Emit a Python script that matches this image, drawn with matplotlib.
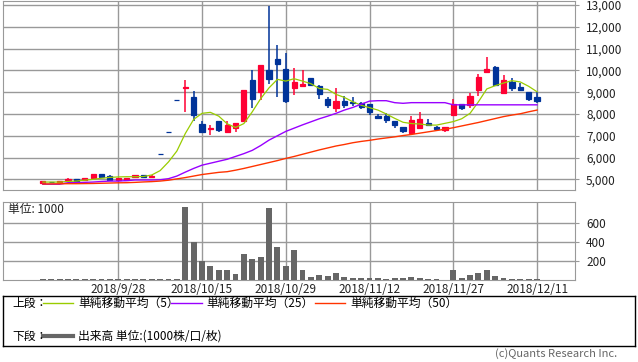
import numpy as np
import matplotlib
matplotlib.use("Agg")
import matplotlib.pyplot as plt
from matplotlib.ticker import FuncFormatter

plt.rcParams['font.family'] = ['Noto Sans CJK JP', 'DejaVu Sans']

dates = ["2018/9/13", "2018/9/14", "2018/9/18", "2018/9/19", "2018/9/20",
         "2018/9/21", "2018/9/25", "2018/9/26", "2018/9/27", "2018/9/28",
         "2018/10/1", "2018/10/2", "2018/10/3", "2018/10/4", "2018/10/5",
         "2018/10/9", "2018/10/10", "2018/10/11", "2018/10/12", "2018/10/15",
         "2018/10/16", "2018/10/17", "2018/10/18", "2018/10/19", "2018/10/22",
         "2018/10/23", "2018/10/24", "2018/10/25", "2018/10/26", "2018/10/29",
         "2018/10/30", "2018/10/31", "2018/11/1", "2018/11/2", "2018/11/5",
         "2018/11/6", "2018/11/7", "2018/11/8", "2018/11/9", "2018/11/12",
         "2018/11/13", "2018/11/14", "2018/11/15", "2018/11/16", "2018/11/19",
         "2018/11/20", "2018/11/21", "2018/11/22", "2018/11/26", "2018/11/27",
         "2018/11/28", "2018/11/29", "2018/11/30", "2018/12/3", "2018/12/4",
         "2018/12/5", "2018/12/6", "2018/12/7", "2018/12/10", "2018/12/11"]

opens = [4840, 4900, 4860, 4970, 5010, 4970, 5045, 5245, 5150, 4970,
         4970, 5105, 5200, 5105, 6150, 7160, 8640, 9180, 8775, 7540,
         7300, 7675, 7185, 7370, 7690, 9560, 9000, 10017, 10520, 10063,
         9205, 9280, 9650, 9280, 8700, 8290, 8595, 8560, 8490, 8440,
         7920, 7905, 7675, 7385, 7140, 7370, 7600, 7385, 7265, 7950,
         8455, 8410, 9100, 9940, 10170, 8975, 9480, 9250, 8990, 8790]
highs = [4930, 4900, 4915, 5045, 5010, 5060, 5245, 5245, 5210, 5075,
         5075, 5200, 5200, 5195, 6150, 7160, 8640, 9560, 9070, 7675,
         7490, 7675, 7660, 7570, 9100, 10017, 10245, 12970, 11165, 10783,
         10095, 10017, 9650, 9330, 8790, 9175, 8840, 8765, 8560, 8450,
         7985, 8030, 7675, 7400, 7905, 8075, 7755, 7445, 7385, 8670,
         8455, 8975, 9835, 10627, 10200, 9790, 9635, 9405, 9000, 9020]
lows = [4830, 4860, 4860, 4960, 4845, 4970, 5045, 5120, 4970, 4970,
        4970, 5105, 5105, 5095, 6150, 7160, 8640, 8100, 7690, 7170,
        7030, 7180, 7140, 7160, 7645, 8260, 8640, 9380, 8790, 8490,
        8870, 9220, 9280, 8670, 8260, 8100, 8260, 8365, 8240, 7950,
        7755, 7600, 7370, 7140, 7140, 7370, 7480, 7215, 7185, 7950,
        8180, 8260, 8825, 9865, 9280, 8975, 9070, 9050, 8610, 8490]
closes = [4915, 4860, 4915, 5010, 4920, 5060, 5245, 5120, 4970, 5075,
          5075, 5200, 5105, 5165, 6150, 7160, 8640, 9230, 7965, 7185,
          7370, 7260, 7490, 7570, 9100, 8685, 10245, 9604, 10305, 8610,
          9480, 9375, 9340, 8930, 8410, 8595, 8410, 8515, 8335, 8100,
          7830, 7720, 7490, 7215, 7720, 7765, 7500, 7310, 7385, 8455,
          8285, 8840, 9710, 10063, 9330, 9560, 9205, 9100, 8685, 8610]

volumes = [8, 8, 8, 8, 8, 8, 8, 8, 8, 8,
           8, 8, 8, 8, 6, 6, 14, 772, 397, 204,
           147, 105, 105, 63, 274, 221, 242, 761, 351, 147,
           316, 105, 32, 53, 42, 74, 32, 21, 21, 21,
           21, 14, 21, 21, 32, 21, 14, 14, 4, 105,
           21, 53, 74, 105, 42, 21, 14, 14, 14, 10]

sma5 = [4875, 4875, 4875, 4900, 4920, 4960, 5000, 5050, 5090, 5110,
        5120, 5120, 5130, 5200, 5400, 5800, 6300, 7100, 7750, 8030,
        8075, 7900, 7550, 7380, 7560, 8100, 8700, 9200, 9590, 9510,
        9620, 9510, 9390, 9170, 9130, 8900, 8760, 8560, 8400, 8290,
        8180, 8000, 7800, 7620, 7560, 7540, 7490, 7490, 7570, 7650,
        7780, 8030, 8560, 9150, 9300, 9420, 9530, 9470, 9270, 9020]
sma25 = [4775, 4775, 4775, 4845, 4845, 4860, 4875, 4900, 4920, 4920,
         4940, 4970, 4970, 4970, 4980, 5030, 5150, 5330, 5500, 5650,
         5740, 5830, 5920, 6050, 6180, 6330, 6550, 6800, 7000, 7200,
         7350, 7500, 7640, 7780, 7900, 8030, 8180, 8300, 8450, 8590,
         8610, 8610, 8520, 8490, 8520, 8520, 8520, 8520, 8520, 8420,
         8420, 8420, 8420, 8420, 8420, 8420, 8420, 8420, 8420, 8420]
sma50 = [4785, 4790, 4795, 4800, 4800, 4805, 4810, 4820, 4830, 4840,
         4845, 4860, 4880, 4895, 4920, 4960, 5020, 5080, 5150, 5220,
         5270, 5320, 5350, 5420, 5500, 5590, 5680, 5770, 5860, 5960,
         6050, 6150, 6250, 6350, 6440, 6530, 6600, 6680, 6740, 6790,
         6850, 6900, 6950, 7010, 7060, 7120, 7180, 7240, 7300, 7370,
         7450, 7530, 7610, 7700, 7790, 7880, 7950, 8010, 8100, 8180]

tick_idx = [9, 19, 29, 39, 49, 59]

red = '#ff0033'
blue = '#003399'
grid_c = '#999999'

fig = plt.figure(figsize=(6.38, 3.62), dpi=100)

ax = fig.add_axes([3/638, 1-190/362, 572/638, 189.5/362])
axv = fig.add_axes([3/638, 1-280/362, 572/638, 78.3/362])
axl = fig.add_axes([3/638, 1-346/362, 632/638, 50/362])

x = np.arange(len(closes))
o = np.array(opens)
c = np.array(closes)
cols = [red if cc > oo else blue for oo, cc in zip(opens, closes)]

# price panel
ax.vlines(x, lows, highs, colors=cols, linewidth=1.1, zorder=3)
ax.bar(x, c - o, bottom=o, width=0.62, color=cols, edgecolor=cols,
       linewidth=0.9, zorder=3)
ax.plot(x, sma5, color='#99cc00', lw=0.9, zorder=4)
ax.plot(x, sma25, color='#9900ff', lw=1.0, zorder=4)
ax.plot(x, sma50, color='#ff3300', lw=1.0, zorder=4)

xmin, xmax = -4.76, 63.53
for a in (ax, axv):
    a.set_xlim(xmin, xmax)
    a.set_xticks(tick_idx)
    a.grid(True, color=grid_c, linewidth=1.0, zorder=0)
    a.set_axisbelow(True)
    for s in a.spines.values():
        s.set_color(grid_c)
    a.yaxis.tick_right()
    a.tick_params(axis='y', length=3, pad=5, color=grid_c, labelsize=8.5,
                  labelcolor='#222222')
    a.tick_params(axis='x', length=0)

ax.set_ylim(4510, 13210)
ax.set_yticks(range(5000, 13001, 1000))
ax.yaxis.set_major_formatter(FuncFormatter(lambda v, p: f"{int(v):,}"))
ax.set_xticklabels([])

# volume panel
axv.bar(x, volumes, width=0.7, color='#666666', zorder=3)
axv.set_ylim(0, 825)
axv.set_yticks([200, 400, 600])
axv.set_xticklabels([dates[i] for i in tick_idx], fontsize=8.5, color='#222222')
axv.tick_params(axis='x', pad=2)
axv.text(0.008, 0.9, "単位: 1000", transform=axv.transAxes, fontsize=8.5,
         va='center', ha='left', color='#222222')

# legend box
axl.set_xlim(0, 1)
axl.set_ylim(0, 1)
axl.set_xticks([])
axl.set_yticks([])
for s in axl.spines.values():
    s.set_color('black')
    s.set_linewidth(1.0)

r1, r2 = 0.86, 0.2
fs = 8.5
axl.text(0.0142, r1, "上段：", fontsize=fs, va='center', ha='left')
axl.plot([0.0633, 0.1108], [r1, r1], color='#99cc00', lw=1.0)
axl.text(0.1187, r1, "単純移動平均（5）", fontsize=fs, va='center', ha='left')
axl.plot([0.2658, 0.3149], [r1, r1], color='#9900ff', lw=1.0)
axl.text(0.3212, r1, "単純移動平均（25）", fontsize=fs, va='center', ha='left')
axl.plot([0.4937, 0.5411], [r1, r1], color='#ff3300', lw=1.0)
axl.text(0.549, r1, "単純移動平均（50）", fontsize=fs, va='center', ha='left')

axl.text(0.0142, r2, "下段：", fontsize=fs, va='center', ha='left')
axl.plot([0.0633, 0.1108], [r2, r2], color='#666666', lw=3.0)
axl.text(0.1187, r2, "出来高 単位:(1000株/口/枚)", fontsize=fs, va='center', ha='left')

fig.text(617/638, 1-354/362, "(c)Quants Research Inc.", fontsize=8,
         color='#666666', ha='right', va='center')

fig.savefig("out.png", dpi=100)
